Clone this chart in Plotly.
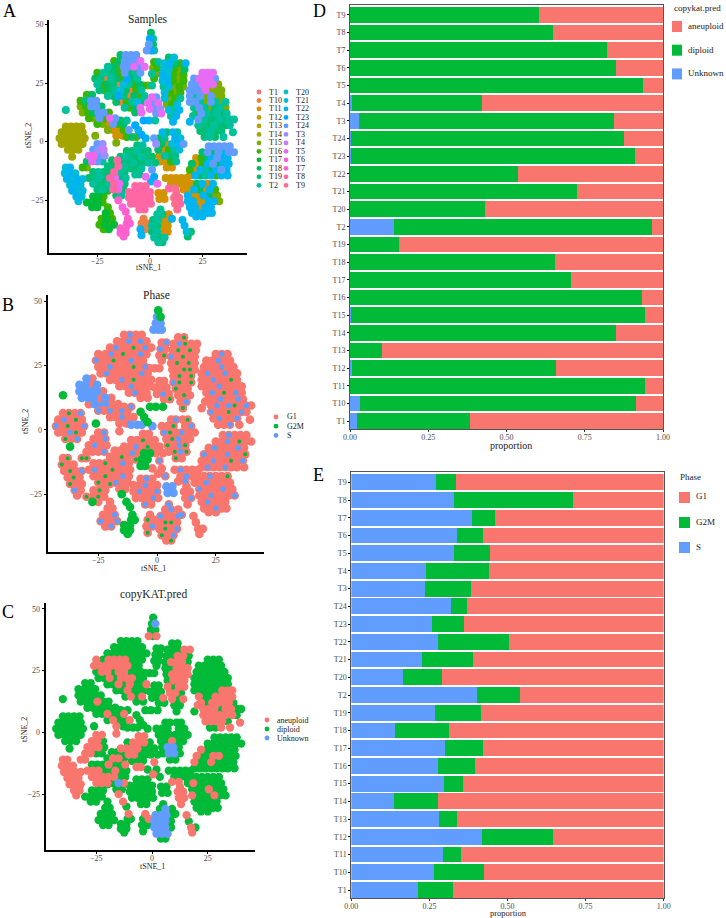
import plotly.graph_objects as go

FONT = "Liberation Serif"
W, H = 726, 918
RED, GREEN, BLUE = "#F8766D", "#00BA38", "#619CFF"

samples = ["T1","T10","T11","T12","T13","T14","T15","T16","T17","T18","T19","T2","T20","T21","T22","T23","T24","T3","T4","T5","T6","T7","T8","T9"]
sample_codes = "abcdefghijklmnopqrstuvwx"
sample_colors = ["#F8766D","#ED8141","#DE8C00","#CD9600","#B79F00","#A3A500","#7CAE00","#39B600","#00BA38","#00BE67","#00BF7D","#00C19A","#00BFC4","#00BCD8","#00B4EF","#00A9FF","#619CFF","#9590FF","#C77CFF","#E76BF3","#F564E3","#FF61CC","#FF67A4","#FF6C91"]

cnv_unknown = [.023,.032,0,.005,0,0,.004,0,0,0,0,.14,0,0,0,.002,.004,.029,.005,0,0,0,0,0]
cnv_diploid = [.361,.881,.943,.653,.102,.85,.937,.934,.706,.656,.155,.824,.432,.726,.536,.908,.871,.816,.416,.936,.85,.822,.649,.603]
cnv_aneuploid = [.616,.087,.057,.342,.898,.15,.059,.066,.294,.344,.845,.036,.568,.274,.464,.09,.125,.155,.579,.064,.15,.178,.351,.397]

phase_s = [.212,.265,.293,.418,.281,.136,.296,.277,.30,.14,.267,.402,.165,.227,.277,.258,.32,.236,.239,.329,.338,.387,.328,.271]
phase_g2m = [.112,.16,.058,.227,.058,.14,.063,.12,.122,.174,.147,.138,.126,.161,.229,.102,.05,.148,.201,.115,.085,.072,.383,.064]
phase_g1 = [.676,.575,.649,.355,.661,.724,.641,.603,.578,.686,.586,.46,.709,.612,.494,.64,.63,.616,.56,.556,.577,.541,.289,.665]

# tSNE cells: (tSNE_2, [tSNE_1...], sample codes, phase codes, copyKAT codes)
# phase codes: G = G1, S/M = scattered S/G2M cells, s/m = S/G2M cells in a solid patch
c_top = [(46.5,[0.5],"j","m","d"),(44,[0,1.5],"pl","sm","du"),(41.5,[-0.5,1.5],"qj","ss","d"),(39,[-1.5,0.5,2],"qpl","sss","ada")]
c_upper_left = [
(37,[-14,-11.5,-9,-6.5],"jqqq","GSGG","d"),
(34.5,[-17,-14.5,-12,-9.5,-7,-4.5],"hjqqqt","GGSGSG","d"),
(32,[-20,-17.5,-15,-12.5,-10,-7.5,-5,-2.5],"ljhqqtqt","GSGGMGSG","d"),
(29.5,[-25,-22,-19.5,-17,-14.5,-12,-9.5,-7,-4.5],"hlkjhqjlq","GGSGMGGSG","adaaaaddd"),
(27,[-26,-23.5,-21,-18.5,-16,-13.5,-11,-8.5,-6],"jkbljhpjl","SGGMGGSGG","aaaaaaadd"),
(24.5,[-25,-22.5,-20,-17.5,-15,-12.5,-10,-7.5,-5],"lhjkbnlhj","GGSGGGMGS","daadaaddd"),
(22,[-24,-21.5,-19,-16.5,-14,-11.5,-9,-6.5,-4],"khjlnjbhl","GSGGGGGSG","ddadaaadd"),
(19.5,[-20,-17.5,-15,-12.5,-10,-7.5,-5,-2.5],"ljpkbjhl","GGSGMGGG","ddadadda"),
(17,[-16,-13.5,-11,-8.5,-6,-3.5],"jbhlnk","GGSGGG","ddaddd"),
(14.5,[-12,-9.5,-7,-4.5],"lhjt","GSGG","dada"),
(12.5,[-7,-4],"jt","GG","d")]
c_left_mid = [
(20,[-30,-27.5],"hj","sG","d"),
(17.5,[-33,-30.5,-28,-25.5],"hkqq","ssGs","d"),
(15,[-33,-30.5,-28,-25.5,-23],"ghqqj","ssssG","d"),
(12.5,[-32,-29.5,-27,-24.5,-22,-19.5],"ghjqqh","sssGsG","dddadd"),
(10,[-29,-26.5,-24,-21.5,-19,-16.5],"hgqhtq","GsSSGG","d"),
(7.5,[-25,-22.5,-20,-17.5,-15,-12.5],"hgcqhj","SGSGSG","ddadda"),
(5,[-20,-17.5,-15,-12.5,-10],"gcdhq","GGSGG","dadda"),
(2.5,[-16,-13],"dc","GG","ad"),
(-0.5,[-16],"g","G","a")]
c_bits = [
(9,[-14,-11],"jl","GS","d"),(7,[-7],"p","m","d"),(5,[-5.5],"o","m","d"),(3,[-4],"p","m","d"),(1.5,[-2],"o","s","d"),
(2,[-11,-8.5,-6.5],"hjh","sss","d"),(2.5,[-26],"g","m","d"),(13.5,[-40],"l","m","d"),(24,[-3,-1,1],"hgl","GGG","d"),
(9,[-3,-0.5,2.5],"pol","mmm","d"),(11,[20.5],"l","G","a"),(8.5,[19],"o","G","d"),(4,[39.5],"l","G","a")]
c_olive = [
(6.5,[-40,-37.5,-35,-32.5],"ffff","GMGS","d"),
(4,[-42,-39.5,-37,-34.5,-32],"fffff","GSGMG","d"),
(1.5,[-43,-40.5,-38,-35.5,-33,-31],"ffffff","SGMGGS","d"),
(-1,[-42,-39.5,-37,-34.5,-32],"fffff","GGSMG","d"),
(-3.5,[-39,-36.5,-34],"fff","MGS","d"),
(-6.5,[-37],"f","m","d")]
c_purple = [
(-1,[-25,-22.5],"qr","GS","a"),
(-3.5,[-27,-24.5,-22],"qrs","GGS","aad"),
(-6,[-29,-26.5,-24,-21.5],"tuqr","GSGG","aaad"),
(-8.5,[-30,-27.5,-25,-22.5],"jtql","GGGS","aadd"),
(-11,[-32,-30],"hg","M","a")]
c_center_left = [
(-8,[-18,-15.5],"jw","G","d"),
(-10.5,[-20,-17.5,-15,-12.5],"kjwl","GGMG","daad"),
(-13,[-27,-24.5,-22,-19.5,-17,-14.5,-12],"klkjwlk","GGMGGSG","dddadda"),
(-15.5,[-29,-26.5,-24,-21.5,-19,-16.5,-14,-11.5],"jklkwtjl","GSGGMGGG","aaaddadd"),
(-18,[-27,-24.5,-22,-19.5,-17,-14.5,-12],"lkjlwtk","GGMGGSG","aaaaadd"),
(-20.5,[-25,-22.5,-20,-17.5,-15,-12.5],"kljwuk","MGGSGG","aaadua"),
(-23,[-16,-13.5],"jl","G","d")]
c_center = [
(-1.5,[-6,-3.5],"kl","G","a"),
(-4,[-11,-8.5,-6,-3.5,-1],"jkljk","GGMGG","daaad"),
(-6.5,[-14,-11.5,-9,-6.5,-4,-1.5,1],"klkjlkj","GGSGMGG","aaaaddd"),
(-9,[-13,-10.5,-8,-5.5,-3,-0.5,2.5],"jkljklk","GSGmmGG","daadddd"),
(-11.5,[-9,-6.5,-4],"kjl","Mmm","d"),
(-14,[-7,-5],"lk","m","a"),
(-12,[1],"q","S","a"),(-15,[-2,2],"tp","GG","d"),(-17,[0.5],"o","G","a"),(-18,[3.5],"t","S","d")]
c_lower_left = [
(-11,[-40,-38],"no","GM","a"),(-13.5,[-40.5,-38,-35.5],"non","MGG","a"),
(-16,[-39.5,-37,-34.5,-32],"onon","GMGS","a"),(-18.5,[-38,-35.5,-33],"non","GMG","a"),
(-21,[-37,-34.5,-32],"onn","MGG","a"),(-23.5,[-35,-32.5],"on","SG","a"),(-25.5,[-34],"n","G","a")]
c_green_a = [(-21,[-22.5,-20],"ih","GM","d"),(-23.5,[-27,-24.5,-22],"iih","GMG","d"),(-26,[-30,-27.5,-25,-22.5],"iiih","MGMG","d"),(-28,[-27.5,-25],"ii","mG","d")]
c_green_b = [(-28,[-20],"h","G","d"),(-30.5,[-21,-19],"ih","G","d"),(-33,[-23,-20.5,-18],"hih","GGS","d"),(-35.5,[-24,-21.5,-19,-17],"hihi","SGGS","d"),(-37.5,[-22,-19.5],"hi","GS","d")]
c_pink = [
(-19,[-7,-4.5,-2],"www","GSG","d"),(-21.5,[-10,-7.5,-5,-2.5,0],"wwwww","GGSGG","d"),
(-24,[-10,-7.5,-5,-2.5,0],"wwwww","GSGGS","d"),(-26.5,[-9,-6.5,-4,-1.5,0.5],"wwwww","GGGSG","d"),(-29,[-5,-2.5],"ww","SG","d"),
(-25,[-15],"v","m","a"),(-28,[-13],"u","m","a"),(-30,[-11.5],"v","m","d")]
c_magenta = [(-33,[-10.5],"v","m","a"),(-35,[-11,-9.5],"vu","mm","d"),(-37,[-14,-11.5],"vv","mm","d"),(-39,[-14,-11.5],"uv","mm","d"),(-40.5,[-12.5],"v","m","d")]
c_orange = [(-22,[4,6.5],"cd","s","d"),(-24.5,[4.5,7],"dc","s","d")]
c_rose = [(-20,[9,12],"wx","GS","a"),(-22,[12.5],"x","G","a"),(-24,[11.5,14],"xx","G","a"),(-26.5,[12,14.5],"xw","GS","a"),(-29,[13],"x","G","a")]
c_bottom = [
(-29,[5],"l","S","d"),(-31,[3.5,6,9],"lkc","GSG","dud"),(-33.5,[1.5,4,6.5,9],"kldc","SGGS","uuud"),
(-36,[1,3.5,6,8.5],"lkcd","GMMG","uuud"),(-38.5,[1,3.5,6,8.5],"klcc","GMGS","uuud"),
(-41,[2,4.5,7],"lkl","MGS","u"),(-43,[4,6],"lk","GM","d"),(-33,[10.5],"o","S","d")]
c_bottom_b = [(-33,[-3],"b","G","a"),(-35,[-4,-1.5],"bb","MG","da"),(-37.5,[-4.5,-2],"ob","GS","d"),(-40,[-4],"o","M","d")]
c_bottom_c = [(-33.5,[15.5],"o","G","a"),(-36,[16.5],"o","G","d"),(-38.5,[17.5,19.5],"nj","G","ad"),(-40.5,[18],"j","G","a")]
c_center_right = [
(4,[6,8,11,13],"ojol","GSGM","d"),(1.5,[2,4.5,7,12,14.5],"qjlon","GGMGS","d"),
(-1,[3,5.5,8,10.5,13,16],"rjdnoq","SMGSGG","d"),(-3.5,[4,6.5,9,11.5,14],"jdhln","GMSGG","ddadd"),
(-6,[4.5,7,9.5,12],"dljk","MGSM","duud"),(-8.5,[5,7.5,10,12.5],"cdhl","GMSM","duud"),(-11,[8,10.5],"dc","MG","d")]
c_top_center = [
(36,[9,11.5],"jn","GM","d"),(33.5,[7,9.5,12,14.5,17],"nojho","GSMGG","dddaa"),
(31,[6.5,9,11.5,14,16.5],"nnhgj","GMGMG","ddaad"),(28.5,[6,8.5,11,13.5,16],"onhgh","SGMGG","daaad"),
(26,[6,8.5,11,13.5,16],"nohgh","GMGMG","ddaaa"),(23.5,[6.5,9,11.5,14,16],"lnghg","GGMMG","daaaa"),
(21,[7,9.5,12,14.5],"nhgh","GMGM","daaa"),(18.5,[7,9.5,12,14.5],"nghl","SMGM","adaa"),
(16,[8,10.5,13],"ghn","MGG","aad"),(13.5,[9,11.5,14],"nlo","GMG","ada"),(11,[10,12.5],"lo","GS","d"),(8.5,[11],"o","M","d")]
c_top_center_b = [(34,[2,4],"hl","GS","d"),(31.5,[1.5,3.5],"gh","SG","d"),(29,[1,3],"lg","GM","d"),(27,[2],"h","G","d")]
c_mid_small = [(19,[1,3],"tq","G","d"),(16.5,[-1,1.5,4],"tqt","G","d"),(14,[0,2.5,5],"tqr","GSG","dda"),(12,[3,5.5],"qt","GM","d")]
c_upper_right = [
(29.5,[25,27.5,30],"ttt","GSG","d"),
(27,[21,23.5,26,28.5,31],"qtttq","GGSGG","d"),
(24.5,[20,22.5,25,27.5,30,32.5],"qqtttg","GGGSGG","d"),
(22,[19,21.5,24,26.5,29,31.5,34],"qqqtggg","GSGGSGG","d"),
(19.5,[19,21.5,24,26.5,29,31.5,34],"qlqgqgg","GGSGGMG","d"),
(17,[19,21.5,24,26.5,29,31.5,34,36],"qqlgqlgl","GGGSGGGG","dddddaaa"),
(14.5,[21,23.5,26,28.5,31,33.5,36],"lqlgklg","GSGMGSG","addaaaa"),
(12,[22,24.5,27,29.5,32,34.5,36.5],"hqlkljl","GGSGGSG","adaaaad"),
(9.5,[23,25.5,28,30.5,33,35.5,38,40],"qlkjlkll","GSGSMGSG","aaadaadd"),
(7,[23,25.5,28,30.5,33,36,38],"lkjlkjl","SGGMGSG","aaaaaad"),
(4.5,[24,26.5,29,31.5,34],"jkljk","GSGGS","aaaad"),
(2,[26,28.5,31,35],"kljl","GGSG","ddaa")]
c_right = [
(-2,[28,30.5,33,35.5,38],"qqqqq","GSGGG","d"),
(-4.5,[25,27.5,30,32.5,35,37.5,40],"jqjqoqq","GGSGMGG","d"),
(-7,[22,24.5,27,29.5,32,34.5,37],"dhjoqoo","GSGGGSG","adddddd"),
(-9.5,[20,22.5,25,27.5,30,32.5,35,37.5],"jdhoqjoo","SGGGSGGM","addaaddd"),
(-12,[19,21.5,24,26.5,29,31.5,34,36.5],"hdoljoqo","GGSGGMGS","addadddd"),
(-14.5,[19,21.5,24,26.5,29,31.5,34,37],"dojlohoo","GSGGSGGG","d")]
c_lower_right = [
(-15.5,[7.5,10,12.5,15,17.5],"dcddc","GSGGG","d"),
(-18,[10,12.5,15,17.5,20,22.5,25,27.5,30],"dcdcdjoco","GSGGGSGGM","d"),
(-20.5,[16,18.5,21,23.5,26,28.5,31],"cdojcoh","GGSGGGG","daddddd"),
(-23,[18,20.5,23,25.5,28,30.5,32],"ocdojcg","SGGGSGG","dddaddd"),
(-25.5,[18,20.5,23,25.5,28,30.5,33],"oocdoog","GGSGGGS","adddadd"),
(-28,[19,21.5,24,26.5,29],"oocoo","GSGGG","d"),
(-30.5,[20,22.5,25,27.5,29.5],"ooooo","GGSGG","d"),
(-32,[22,25],"oo","G","d")]

clusters = [c_top,c_upper_left,c_left_mid,c_bits,c_olive,c_purple,c_center_left,c_center,c_lower_left,c_green_a,c_green_b,c_pink,c_magenta,c_orange,c_rose,c_bottom,c_bottom_b,c_bottom_c,c_center_right,c_top_center,c_top_center_b,c_mid_small,c_upper_right,c_right,c_lower_right]

cx, cy, cs, cp, cc = [], [], [], [], []
for cl in clusters:
    for y, xs, s, p, c in cl:
        n = len(xs)
        cx += xs
        cy += [y] * n
        cs += list(s.ljust(n, s[-1]))
        cp += list(p.ljust(n, p[-1]))
        cc += list(c.ljust(n, c[-1]))

def dom(a, b, size):
    return [a / size, b / size]

def ydom(top, bottom):
    return [1 - bottom / H, 1 - top / H]

fig = go.Figure()

panels = {
    "A": dict(ax="x", ay="y", xd=(49, 247), yd=(20, 253), xr=[-48, 46.2], yr=[-47.6, 52], ms=8),
    "B": dict(ax="x2", ay="y2", xd=(47.5, 264), yd=(295, 552), xr=[-46.6, 45.5], yr=[-47.5, 52.5], ms=8.7),
    "C": dict(ax="x3", ay="y3", xd=(45.5, 255), yd=(603, 850), xr=[-47.8, 46.2], yr=[-47.6, 52.4], ms=8.3),
}

def scatter(codes, labels, key, name, color, size=None):
    p = panels[key]
    idx = [i for i, v in enumerate(labels) if v in codes]
    fig.add_trace(go.Scatter(x=[cx[i] for i in idx], y=[cy[i] for i in idx], mode="markers", name=name,
                             marker=dict(color=color, size=size or p["ms"], line=dict(width=0)),
                             xaxis=p["ax"], yaxis=p["ay"], showlegend=False))

for code, name, color in zip(sample_codes, samples, sample_colors):
    scatter(code, cs, "A", name, color)
scatter("GSM", cp, "B", "G1", RED)
scatter("s", cp, "B", "S", BLUE)
scatter("m", cp, "B", "G2M", GREEN)
scatter("S", cp, "B", "S", BLUE, size=5.5)
scatter("M", cp, "B", "G2M", GREEN, size=4)
for code, name, color in [("d", "diploid", GREEN), ("a", "aneuploid", RED), ("u", "Unknown", BLUE)]:
    scatter(code, cc, "C", name, color)

def bars(vals, name, color, xa, ya):
    fig.add_trace(go.Bar(x=vals, y=samples, orientation="h", name=name, marker=dict(color=color, line=dict(width=0)),
                         xaxis=xa, yaxis=ya, showlegend=False, width=0.89))

for v, n, c in [(cnv_unknown, "Unknown", BLUE), (cnv_diploid, "diploid", GREEN), (cnv_aneuploid, "aneuploid", RED)]:
    bars(v, n, c, "x4", "y4")
for v, n, c in [(phase_s, "S", BLUE), (phase_g2m, "G2M", GREEN), (phase_g1, "G1", RED)]:
    bars(v, n, c, "x5", "y5")

layout = dict(width=W, height=H, margin=dict(l=0, r=0, t=0, b=0, autoexpand=False), paper_bgcolor="white", plot_bgcolor="white",
              barmode="stack", font=dict(family=FONT, size=8, color="#4D4D4D"))

names = {"A": ("xaxis", "yaxis"), "B": ("xaxis2", "yaxis2"), "C": ("xaxis3", "yaxis3")}
for k, (xn, yn) in names.items():
    p = panels[k]
    common = dict(showgrid=False, zeroline=False, showline=True, linecolor="black", linewidth=1.6, automargin=False,
                  ticks="outside", ticklen=2, tickwidth=1, tickcolor="black", tickfont=dict(size=8, color="#4D4D4D"))
    layout[xn] = dict(domain=dom(*p["xd"], W), range=p["xr"], anchor=p["ay"], tickvals=[-25, 0, 25], ticklabelstandoff=-2, **common)
    layout[yn] = dict(domain=ydom(*p["yd"]), range=p["yr"], anchor=p["ax"], tickvals=[-25, 0, 25, 50], **common)

for xn, yn, xa, ya, xd, yd in [("xaxis4", "yaxis4", "x4", "y4", (350, 663), (4.5, 429)),
                               ("xaxis5", "yaxis5", "x5", "y5", (351.3, 663.7), (472, 898))]:
    layout[xn] = dict(domain=dom(*xd, W), range=[0, 1], anchor=ya, tickvals=[0, .25, .5, .75, 1], automargin=False,
                      ticktext=["0.00", "0.25", "0.50", "0.75", "1.00"], showgrid=False, zeroline=False, ticklabelstandoff=-2,
                      showline=True, mirror=True, linecolor="#555", linewidth=1, ticks="outside", ticklen=2,
                      tickcolor="#333", tickfont=dict(size=8, color="#4D4D4D"))
    layout[yn] = dict(domain=ydom(*yd), range=[-0.45, 23.58], anchor=xa, type="category", categoryorder="array", automargin=False,
                      categoryarray=samples, showgrid=False, showline=True, mirror=True, linecolor="#555", linewidth=1,
                      ticks="outside", ticklen=2, tickwidth=1, tickcolor="black", tickfont=dict(size=8, color="#4D4D4D"))

annotations, shapes = [], []

def text(px, py, s, size=8, color="#222", anchor="left", angle=0):
    annotations.append(dict(x=px / W, y=1 - py / H, xref="paper", yref="paper", text=s, showarrow=False, textangle=angle,
                            xanchor=anchor, yanchor="middle", font=dict(family=FONT, size=size, color=color)))

def dot(px, py, color, r=2.4):
    shapes.append(dict(type="circle", xref="paper", yref="paper", x0=(px - r) / W, x1=(px + r) / W,
                       y0=1 - (py + r) / H, y1=1 - (py - r) / H, fillcolor=color, line=dict(width=0)))

def key(x0, x1, y0, y1, color):
    shapes.append(dict(type="rect", xref="paper", yref="paper", x0=x0 / W, x1=x1 / W, y0=1 - y1 / H, y1=1 - y0 / H,
                       fillcolor=color, line=dict(width=0)))

for s, x, y in [("A", 9, 11), ("B", 8, 305), ("C", 8, 612), ("D", 319, 11), ("E", 318, 475)]:
    text(x, y, s, size=18, color="black", anchor="center")
for s, x, y in [("Samples", 147, 19), ("Phase", 156, 295), ("copyKAT.pred", 153, 594)]:
    text(x, y, s, size=11.5, anchor="center")
for x, y in [(148, 268), (153, 568), (152, 866)]:
    text(x, y, "tSNE_1", size=8, anchor="center")
for x, y in [(28, 136), (25, 422), (24, 730)]:
    text(x, y, "tSNE_2", size=8, anchor="center", angle=-90)
text(511, 445, "proportion", size=10, anchor="center")
text(508, 913, "proportion", size=8.5, anchor="center")

for i, (s, c) in enumerate(zip(samples, sample_colors)):
    col, row = divmod(i, 12)
    y = 92 + row * 8.48
    dot(259 + col * 27, y, c)
    text(267 + col * 27, y, s, size=8)
for i, (s, c) in enumerate([("G1", RED), ("G2M", GREEN), ("S", BLUE)]):
    dot(276, 417 + i * 9.2, c)
    text(285, 417 + i * 9.2, s, size=8)
for i, (s, c) in enumerate([("aneuploid", RED), ("diploid", GREEN), ("Unknown", BLUE)]):
    dot(267, 720 + i * 9, c)
    text(275, 720 + i * 9, s, size=8)

text(672, 8, "copykat.pred", size=9)
for i, (s, c) in enumerate([("aneuploid", RED), ("diploid", GREEN), ("Unknown", BLUE)]):
    key(672, 682, 21 + i * 23.7, 32 + i * 23.7, c)
    text(686, 26 + i * 23.7, s, size=9)
text(678, 477, "Phase", size=9)
for i, (s, c) in enumerate([("G1", RED), ("G2M", GREEN), ("S", BLUE)]):
    key(679, 690, 492 + i * 25, 503 + i * 25, c)
    text(694, 496.5 + i * 25, s, size=9)

layout["annotations"] = annotations
layout["shapes"] = shapes
fig.update_layout(**layout)
fig.write_html("out.html", config={"displayModeBar": False},
               post_script="document.body.style.margin='0';document.body.style.overflow='hidden';")
